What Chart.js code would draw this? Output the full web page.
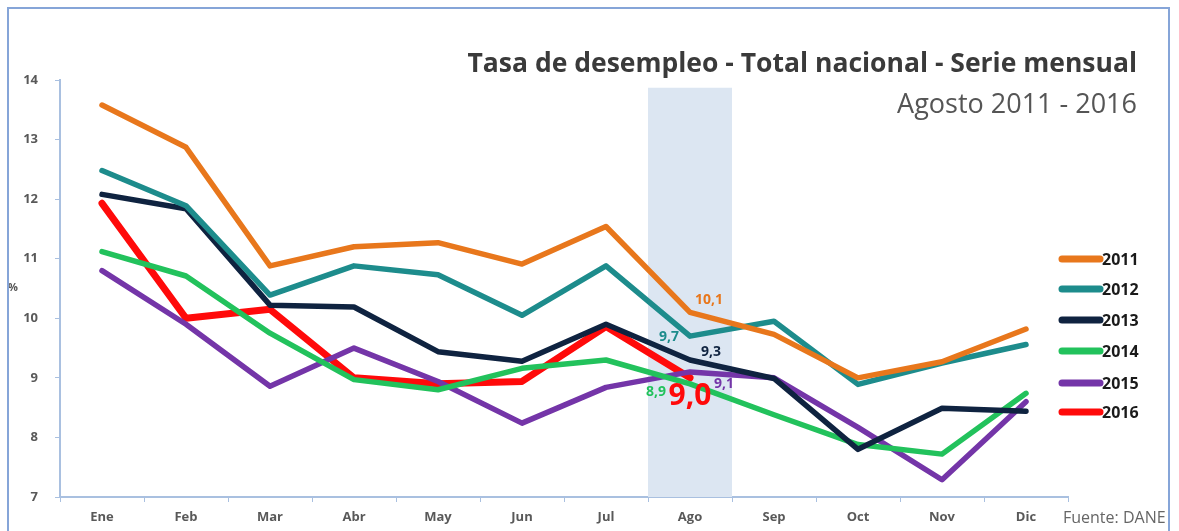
<!DOCTYPE html>
<html><head><meta charset="utf-8">
<script src="https://cdn.jsdelivr.net/npm/chart.js@4"></script>
<style>
html,body{margin:0;padding:0;background:#fff;}
#wrap{position:relative;width:1179px;height:531px;}
#frame{position:absolute;left:7px;top:7px;width:1163px;height:530px;border:2px solid #86a5d8;box-sizing:border-box;pointer-events:none;}
canvas{position:absolute;left:0;top:0;}
</style></head>
<body>
<div id="wrap"><canvas id="c" width="1179" height="531"></canvas><div id="frame"></div></div>
<script>
const months = ["Ene","Feb","Mar","Abr","May","Jun","Jul","Ago","Sep","Oct","Nov","Dic"];
const y2011 = [13.58,12.87,10.88,11.2,11.27,10.91,11.54,10.1,9.73,9.0,9.27,9.82];
const y2012 = [12.48,11.89,10.39,10.88,10.73,10.05,10.88,9.7,9.95,8.89,9.25,9.56];
const y2013 = [12.08,11.84,10.22,10.19,9.44,9.28,9.9,9.3,8.99,7.8,8.49,8.44];
const y2014 = [11.12,10.71,9.75,8.97,8.8,9.16,9.3,8.9,8.38,7.88,7.72,8.74];
const y2015 = [10.8,9.9,8.86,9.5,8.94,8.24,8.84,9.1,9.0,8.17,7.29,8.6];
const y2016 = [11.93,10.0,10.15,9.0,8.9,8.94,9.86,9.0];
const yTicks = [7,8,9,10,11,12,13,14];
const highlightMonth = "Ago";
const highlightTop = 13.87;

const series = [
  {label:"2011", data:y2011, color:"#e8771c", w:5.5, lab:{dx:19,dy:-12,size:14}},
  {label:"2012", data:y2012, color:"#1d8c8c", w:5.5, lab:{dx:-21,dy:1,size:14}},
  {label:"2013", data:y2013, color:"#0f2340", w:5.5, lab:{dx:21,dy:-8,size:14}},
  {label:"2014", data:y2014, color:"#22c25c", w:5.5, lab:{dx:-34,dy:8,size:14}},
  {label:"2015", data:y2015, color:"#7435a8", w:5.5, lab:{dx:34,dy:12,size:14}},
  {label:"2016", data:y2016, color:"#ff0a0a", w:7, lab:{dx:0,dy:19,size:30}}
];

const FONT = "'Open Sans', sans-serif";
const axisColor = "#a9c0e0";

const extras = {
  id:"extras",
  beforeDatasetsDraw(chart){
    const {ctx, scales:{x,y}} = chart;
    const i = months.indexOf(highlightMonth);
    const cx = x.getPixelForValue(i);
    const bw = x.getPixelForValue(1) - x.getPixelForValue(0);
    const top = y.getPixelForValue(highlightTop);
    ctx.save();
    ctx.fillStyle = "#dce6f2";
    ctx.fillRect(cx-bw/2, top, bw, y.getPixelForValue(7)-top);
    ctx.restore();
  },
  afterDatasetsDraw(chart){
    const {ctx, scales:{x,y}} = chart;
    const i = months.indexOf(highlightMonth);
    ctx.save();
    ctx.textAlign="center"; ctx.textBaseline="middle";
    series.forEach(s=>{
      const v = s.data[i];
      const px = x.getPixelForValue(i), py = y.getPixelForValue(v);
      ctx.font = "bold "+s.lab.size+"px "+FONT;
      ctx.fillStyle = s.color;
      ctx.fillText(v.toFixed(1).replace(".",","), px+s.lab.dx, py+s.lab.dy);
    });
    // legend
    ctx.textAlign="left";
    const ly = [259,289,320,351,383,412];
    series.forEach((s,k)=>{
      ctx.strokeStyle = s.color; ctx.lineWidth = 7; ctx.lineCap="round";
      ctx.beginPath(); ctx.moveTo(1062, ly[k]); ctx.lineTo(1100, ly[k]); ctx.stroke();
      ctx.fillStyle="#1a1a1a"; ctx.font="bold 16px "+FONT;
      ctx.fillText(s.label, 1102, ly[k]+1);
    });
    // titles
    ctx.textAlign="right"; ctx.textBaseline="alphabetic";
    ctx.fillStyle="#3a3a3a";
    ctx.font="bold 26.5px "+FONT;
    ctx.fillText("Tasa de desempleo - Total nacional - Serie mensual", 1137, 72);
    ctx.fillStyle="#555";
    ctx.font="27px "+FONT;
    ctx.fillText("Agosto 2011 - 2016", 1137, 113);
    // % and source
    ctx.textAlign="left"; ctx.textBaseline="middle";
    ctx.font="bold 11px "+FONT; ctx.fillStyle="#555";
    ctx.fillText("%", 8, 288);
    ctx.font="16px "+FONT; ctx.fillStyle="#666";
    ctx.fillText("Fuente: DANE", 1063, 518);
    ctx.restore();
  }
};

new Chart(document.getElementById("c"), {
  type:"line",
  data:{
    labels: months,
    datasets: series.map(s=>({
      label:s.label, data:s.data, borderColor:s.color, backgroundColor:s.color,
      borderWidth:s.w, pointRadius:0, tension:0, fill:false, borderJoinStyle:"round", borderCapStyle:"round"
    }))
  },
  options:{
    responsive:false, animation:false,
    layout:{padding:{left:0,right:111,top:80,bottom:0}},
    plugins:{legend:{display:false}, tooltip:{enabled:false}},
    scales:{
      x:{
        offset:true,
        grid:{display:true, drawOnChartArea:false, drawTicks:true, tickLength:5, color:axisColor, offset:true},
        border:{color:axisColor, width:2},
        ticks:{color:"#595959", font:{family:FONT, weight:"bold", size:13}, padding:7, maxRotation:0},
        afterFit(s){ s.height = 34; }
      },
      y:{
        min:7, max:14,
        afterBuildTicks(s){ s.ticks = yTicks.map(v=>({value:v})); },
        grid:{display:true, drawOnChartArea:false, drawTicks:true, tickLength:5, color:axisColor},
        border:{color:axisColor, width:2},
        ticks:{color:"#595959", font:{family:FONT, weight:"bold", size:13}, padding:17},
        afterFit(s){ s.width = 60; }
      }
    }
  },
  plugins:[extras]
});
</script>
</body></html>
